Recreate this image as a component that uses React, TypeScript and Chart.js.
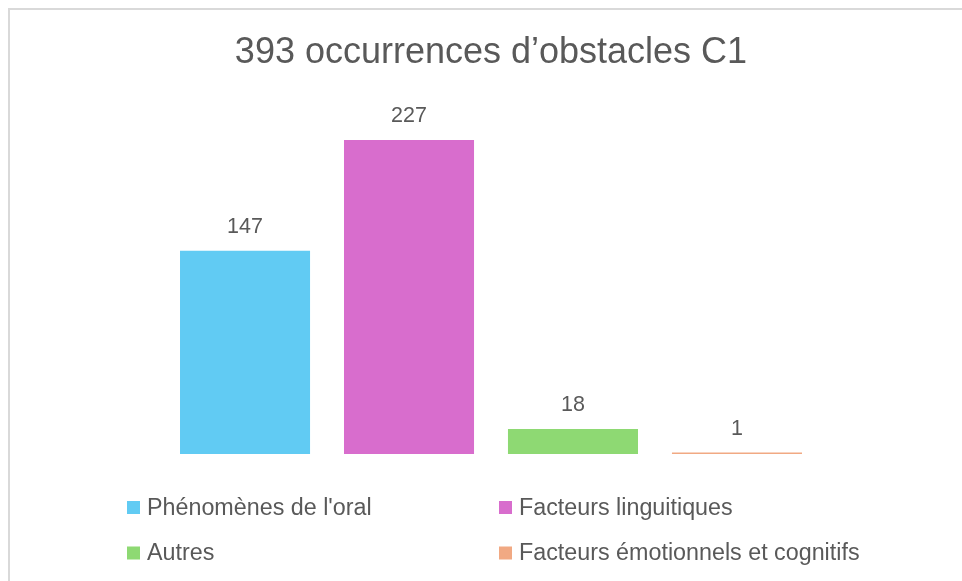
import React, { useEffect, useRef } from "react";
import { Chart, registerables } from "chart.js";

Chart.register(...registerables);

const TITLE = "393 occurrences d’obstacles C1";
const CATEGORIES = [""];
const SERIES_NAMES = [
  "Phénomènes de l'oral",
  "Facteurs linguitiques",
  "Autres",
  "Facteurs émotionnels et cognitifs",
];
const SERIES_VALUES = [147, 227, 18, 1];
const SERIES_COLORS = ["#61CBF3", "#D86DCD", "#8ED973", "#F1A983"];
const Y_MAX = 250;

const TEXT_COLOR = "#595959";
const FONT = "'Liberation Sans', Arial, sans-serif";

const valueLabels = {
  id: "valueLabels",
  afterDatasetsDraw(chart: any) {
    const ctx = chart.ctx;
    ctx.save();
    ctx.font = `21.5px ${FONT}`;
    ctx.fillStyle = TEXT_COLOR;
    ctx.textAlign = "center";
    ctx.textBaseline = "alphabetic";
    chart.data.datasets.forEach((ds: any, i: number) => {
      const meta = chart.getDatasetMeta(i);
      meta.data.forEach((el: any, j: number) => {
        ctx.fillText(String(ds.data[j]), el.x, el.y - 18);
      });
    });
    ctx.restore();
  },
};

const gridLegend = {
  id: "gridLegend",
  afterDraw(chart: any, _args: any, opts: any) {
    const ctx = chart.ctx;
    ctx.save();
    ctx.font = `${opts.fontSize}px ${FONT}`;
    ctx.textBaseline = "middle";
    ctx.textAlign = "left";
    chart.data.datasets.forEach((ds: any, i: number) => {
      const col = i % 2;
      const row = Math.floor(i / 2);
      const x = opts.colX[col];
      const y = opts.rowY[row];
      ctx.fillStyle = ds.backgroundColor;
      ctx.fillRect(x, y - opts.box / 2, opts.box, opts.box);
      ctx.fillStyle = TEXT_COLOR;
      ctx.fillText(ds.label, x + opts.box + 7, y + 1);
    });
    ctx.restore();
  },
};

export default function App() {
  const ref = useRef<HTMLCanvasElement | null>(null);

  useEffect(() => {
    if (!ref.current) return;
    const chart = new Chart(ref.current, {
      type: "bar",
      data: {
        labels: CATEGORIES,
        datasets: SERIES_NAMES.map((name, i) => ({
          label: name,
          data: [SERIES_VALUES[i]],
          backgroundColor: SERIES_COLORS[i],
          borderWidth: 0,
          barPercentage: 0.793,
          categoryPercentage: 0.779,
        })),
      },
      options: {
        responsive: false,
        animation: false,
        devicePixelRatio: 1,
        layout: { padding: { left: 60, right: 50, top: 0, bottom: 127 } },
        scales: {
          x: { display: false },
          y: { display: false, min: 0, max: Y_MAX },
        },
        plugins: {
          legend: { display: false },
          tooltip: { enabled: false },
          title: {
            display: true,
            text: TITLE,
            color: TEXT_COLOR,
            font: { family: FONT, size: 36, weight: "normal" },
            padding: { top: 21, bottom: 34 },
          },
          gridLegend: {
            colX: [117, 489],
            rowY: [497.5, 543],
            box: 13,
            fontSize: 23.3,
          },
        } as any,
      },
      plugins: [valueLabels, gridLegend],
    });
    return () => chart.destroy();
  }, []);

  return (
    <div
      style={{
        position: "fixed",
        left: 8,
        top: 8,
        width: 954,
        height: 573,
        borderLeft: "2px solid #d9d9d9",
        borderTop: "2px solid #d9d9d9",
        boxSizing: "border-box",
        background: "#fff",
        overflow: "hidden",
      }}
    >
      <canvas ref={ref} width={952} height={571} style={{ display: "block" }} />
    </div>
  );
}
